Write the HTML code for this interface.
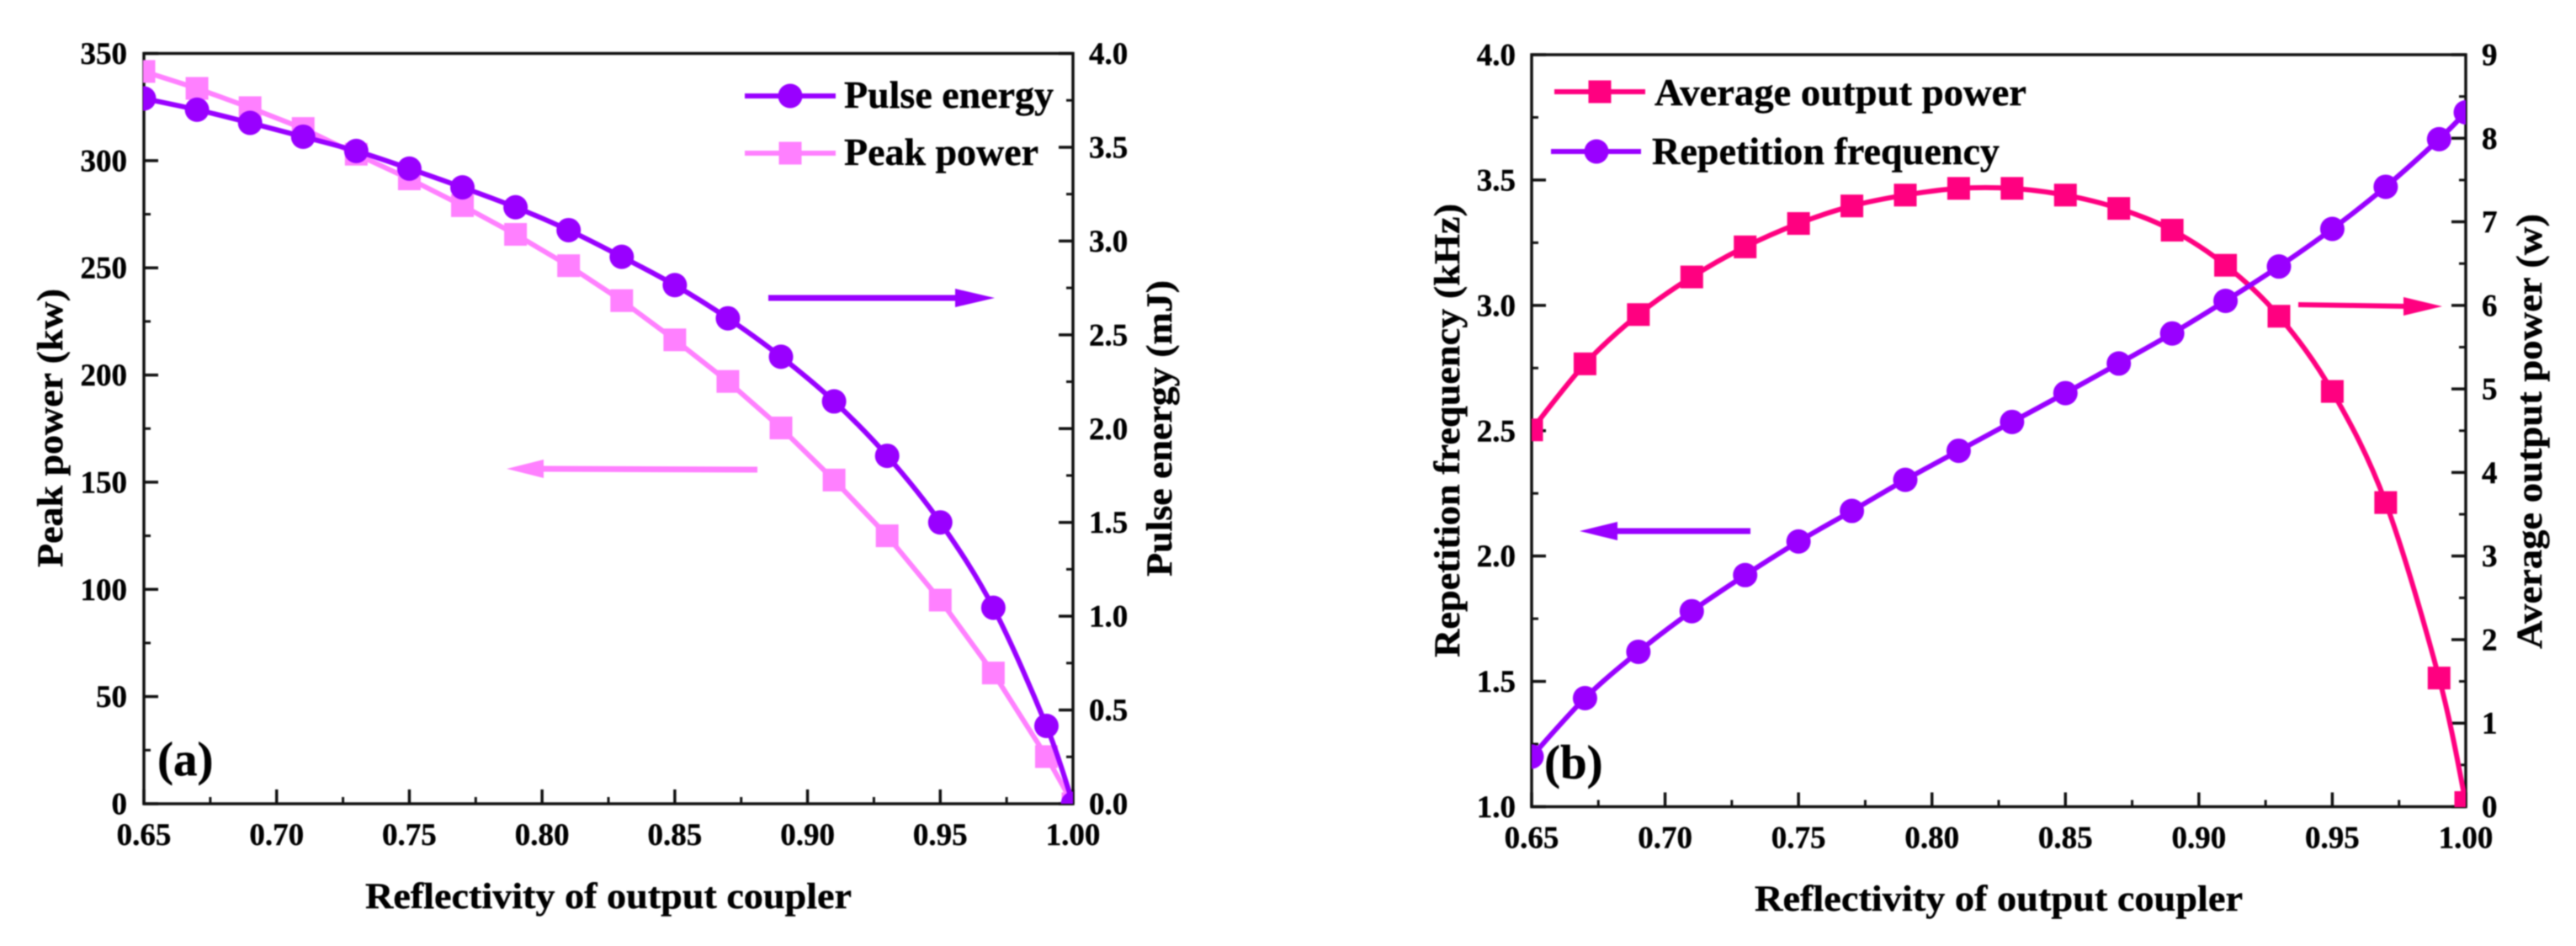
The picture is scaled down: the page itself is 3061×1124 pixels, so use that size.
<!DOCTYPE html>
<html lang="en">
<head>
<meta charset="utf-8">
<title>Peak power, pulse energy, average output power and repetition frequency</title>
<style>
html,body{margin:0;padding:0;background:#fff;}
body{width:3061px;height:1124px;overflow:hidden;}
svg{display:block;filter:blur(0.7px);}
text{font-family:"Liberation Serif",serif;font-weight:bold;fill:#000;stroke:#000;stroke-width:0.4px;}
</style>
</head>
<body>
<svg id="chart" xmlns="http://www.w3.org/2000/svg" width="3061" height="1124" viewBox="0 0 3061 1124">
  <rect x="0" y="0" width="3061" height="1124" fill="#fff"/>
  <defs>
    <clipPath id="clip-a"><rect x="170" y="63" width="1105" height="892"/></clipPath>
    <clipPath id="clip-b"><rect x="1820" y="64" width="1110" height="895"/></clipPath>
  </defs>

  <text x="434" y="1079" font-size="43" textLength="578" lengthAdjust="spacingAndGlyphs">Reflectivity of output coupler</text>
  <text transform="translate(74,674) rotate(-90)" font-size="43" textLength="331" lengthAdjust="spacingAndGlyphs">Peak power (kw)</text>
  <text transform="translate(1392,685) rotate(-90)" font-size="43" textLength="352" lengthAdjust="spacingAndGlyphs">Pulse energy (mJ)</text>
  <text x="187" y="921" font-size="57">(a)</text>

  <text x="2085" y="1082" font-size="43" textLength="580" lengthAdjust="spacingAndGlyphs">Reflectivity of output coupler</text>
  <text transform="translate(1734,781) rotate(-90)" font-size="43" textLength="539" lengthAdjust="spacingAndGlyphs">Repetition frequency (kHz)</text>
  <text transform="translate(3020,771) rotate(-90)" font-size="43" textLength="517" lengthAdjust="spacingAndGlyphs">Average output power (w)</text>
  <text x="1835" y="925" font-size="57">(b)</text>

  <g id="legend-a">
    <line x1="885" y1="114" x2="993" y2="114" stroke="#9900ff" stroke-width="6"/>
    <circle cx="939" cy="114" r="14.5" fill="#9900ff"/>
    <text x="1003" y="128" font-size="46" textLength="249" lengthAdjust="spacingAndGlyphs">Pulse energy</text>
    <line x1="885" y1="182" x2="993" y2="182" stroke="#ff80ff" stroke-width="6"/>
    <rect x="925.5" y="168.5" width="27" height="27" fill="#ff80ff"/>
    <text x="1003" y="196" font-size="46" textLength="231" lengthAdjust="spacingAndGlyphs">Peak power</text>
  </g>

  <g id="legend-b">
    <line x1="1847" y1="109" x2="1955" y2="109" stroke="#ff0080" stroke-width="6"/>
    <rect x="1887.5" y="95.5" width="27" height="27" fill="#ff0080"/>
    <text x="1966" y="125" font-size="46" textLength="442" lengthAdjust="spacingAndGlyphs">Average output power</text>
    <line x1="1843" y1="180" x2="1950" y2="180" stroke="#9900ff" stroke-width="6"/>
    <ellipse cx="1897" cy="180" rx="14.5" ry="14.5" fill="#9900ff"/>
    <text x="1963" y="195" font-size="46" textLength="413" lengthAdjust="spacingAndGlyphs">Repetition frequency</text>
  </g>

  <g>
    <line x1="913" y1="354" x2="1140" y2="354" stroke="#9900ff" stroke-width="7"/>
    <polygon points="1135,343 1182,354 1135,365" fill="#9900ff"/>
  </g>
  <g>
    <line x1="900" y1="558" x2="640" y2="557" stroke="#ff80ff" stroke-width="7"/>
    <polygon points="646,546 602,557 646,568" fill="#ff80ff"/>
  </g>
  <g>
    <line x1="2080" y1="631" x2="1915" y2="631" stroke="#9900ff" stroke-width="7"/>
    <polygon points="1922,620 1877,631 1922,642" fill="#9900ff"/>
  </g>
  <g>
    <line x1="2731" y1="362" x2="2862" y2="364" stroke="#ff0080" stroke-width="6"/>
    <polygon points="2856,353 2902,364 2856,375" fill="#ff0080"/>
  </g>
</svg>

<script>
var reflectivity = [0.65,0.67,0.69,0.71,0.73,0.75,0.77,0.79,0.81,0.83,0.85,0.87,0.89,0.91,0.93,0.95,0.97,0.99,1.00];
var peakPower = [341.6,333.7,324.7,315,303,291.5,279,265.6,251,234.7,216.4,197,175.3,151,125,95,61,22,0];
var pulseEnergy = [3.76,3.70,3.63,3.556,3.48,3.386,3.286,3.18,3.058,2.916,2.765,2.588,2.383,2.145,1.855,1.50,1.045,0.415,0];
var repetitionFrequency = [1.20,1.433,1.618,1.78,1.924,2.058,2.18,2.304,2.42,2.535,2.65,2.768,2.888,3.018,3.155,3.305,3.473,3.663,3.77];
var averagePower = [4.51,5.30,5.89,6.34,6.70,6.98,7.19,7.32,7.40,7.40,7.32,7.16,6.90,6.48,5.87,4.97,3.64,1.54,0.05];

var xTickLabels = ["0.65","0.70","0.75","0.80","0.85","0.90","0.95","1.00"];
var peakTickLabels = ["0","50","100","150","200","250","300","350"];
var energyTickLabels = ["0.0","0.5","1.0","1.5","2.0","2.5","3.0","3.5","4.0"];
var freqTickLabels = ["1.0","1.5","2.0","2.5","3.0","3.5","4.0"];
var powerTickLabels = ["0","1","2","3","4","5","6","7","8","9"];

var NS = 'http://www.w3.org/2000/svg';
var svg = document.getElementById('chart');
var firstOverlay = document.getElementById('legend-a');

function make(tag, attrs, parent) {
  var el = document.createElementNS(NS, tag);
  for (var k in attrs) { el.setAttribute(k, attrs[k]); }
  parent.appendChild(el);
  return el;
}

function linear(d0, d1, r0, r1) {
  return function (v) { return r0 + (v - d0) / (d1 - d0) * (r1 - r0); };
}

function smoothPath(px, py) {
  var d = 'M' + px[0] + ' ' + py[0];
  for (var i = 0; i < px.length - 1; i++) {
    var p0 = Math.max(i - 1, 0), p3 = Math.min(i + 2, px.length - 1);
    var c1x = px[i] + (px[i + 1] - px[p0]) / 6, c1y = py[i] + (py[i + 1] - py[p0]) / 6;
    var c2x = px[i + 1] - (px[p3] - px[i]) / 6, c2y = py[i + 1] - (py[p3] - py[i]) / 6;
    d += ' C' + c1x + ' ' + c1y + ' ' + c2x + ' ' + c2y + ' ' + px[i + 1] + ' ' + py[i + 1];
  }
  return d;
}

function straightPath(px, py) {
  var d = '';
  for (var i = 0; i < px.length; i++) { d += (i ? ' L' : 'M') + px[i] + ' ' + py[i]; }
  return d;
}

function tick(group, x1, y1, x2, y2, w) {
  var t = make('line', { x1: x1, y1: y1, x2: x2, y2: y2, stroke: '#111', 'stroke-width': w }, group);
  
  
}

function label(group, txt, x, y, anchor) {
  var t = make('text', { x: x, y: y, 'font-size': 37, 'text-anchor': anchor }, group);
  t.textContent = txt;
  
  
}

function axes(p) {
  var g = document.createElementNS(NS, 'g');
  
  
  svg.insertBefore(g, firstOverlay);
  var frame = make('rect', { x: p.x0, y: p.y1, width: p.x1 - p.x0, height: p.y0 - p.y1, fill: 'none', stroke: '#111', 'stroke-width': 3.5 }, g);
  
  

  var xScale = linear(0.65, 1.0, p.x0, p.x1);
  var i, v, py;
  for (i = 0; i < xTickLabels.length; i++) {
    v = parseFloat(xTickLabels[i]);
    tick(g, xScale(v), p.y0, xScale(v), p.y0 - 17, 3.5);
    label(g, xTickLabels[i], xScale(v), p.y0 + 49, 'middle');
    if (i < xTickLabels.length - 1) { tick(g, xScale(v + 0.025), p.y0, xScale(v + 0.025), p.y0 - 8, 3); }
  }
  var ly = linear(parseFloat(p.left[0]), parseFloat(p.left[p.left.length - 1]), p.y0, p.y1);
  for (i = 0; i < p.left.length; i++) {
    v = parseFloat(p.left[i]); py = ly(v);
    tick(g, p.x0, py, p.x0 + 17, py, 3.5);
    label(g, p.left[i], p.leftLabelX, py + 12.5, 'end');
    if (i < p.left.length - 1) {
      var mid = ly(v + (parseFloat(p.left[1]) - parseFloat(p.left[0])) / 2);
      tick(g, p.x0, mid, p.x0 + 8, mid, 3);
    }
  }
  var ry = linear(parseFloat(p.right[0]), parseFloat(p.right[p.right.length - 1]), p.y0, p.y1);
  for (i = 0; i < p.right.length; i++) {
    v = parseFloat(p.right[i]); py = ry(v);
    tick(g, p.x1, py, p.x1 - 17, py, 3.5);
    label(g, p.right[i], p.rightLabelX, py + 12.5, 'start');
    if (i < p.right.length - 1) {
      var midR = ry(v + (parseFloat(p.right[1]) - parseFloat(p.right[0])) / 2);
      tick(g, p.x1, midR, p.x1 - 8, midR, 3);
    }
  }
}

function series(s) {
  var g = document.createElementNS(NS, 'g');
  
  
  g.setAttribute('clip-path', 'url(#' + s.clip + ')');
  svg.insertBefore(g, firstOverlay);
  var px = reflectivity.map(s.xf), py = s.values.map(s.yf);
  var line = make('path', { d: s.smooth ? smoothPath(px, py) : straightPath(px, py), fill: 'none', stroke: s.color, 'stroke-width': 6, 'stroke-linejoin': 'round' }, g);
  
  
  for (var i = 0; i < px.length; i++) {
    var m;
    if (s.marker === 'circle') {
      m = make('circle', { cx: px[i], cy: py[i], r: 14.5, fill: s.color }, g);
    } else {
      m = make('rect', { x: px[i] - 13.5, y: py[i] - 13.5, width: 27, height: 27, fill: s.color }, g);
    }
    
    
  }
}

var A = { name: 'panel-a', x0: 171, x1: 1275, y0: 955, y1: 63.5, left: peakTickLabels, right: energyTickLabels, leftLabelX: 151, rightLabelX: 1294 };
var B = { name: 'panel-b', x0: 1820, x1: 2930, y0: 958.5, y1: 65, left: freqTickLabels, right: powerTickLabels, leftLabelX: 1801, rightLabelX: 2949 };

axes(A);
axes(B);

var xA = linear(0.65, 1.0, A.x0, A.x1);
var xB = linear(0.65, 1.0, B.x0, B.x1);

series({ name: 'peak-power', values: peakPower, color: '#ff80ff', marker: 'square', smooth: false, clip: 'clip-a', xf: xA, yf: linear(0, 350, A.y0, A.y1) });
series({ name: 'pulse-energy', values: pulseEnergy, color: '#9900ff', marker: 'circle', smooth: true, clip: 'clip-a', xf: xA, yf: linear(0, 4, A.y0, A.y1) });
series({ name: 'average-output-power', values: averagePower, color: '#ff0080', marker: 'square', smooth: true, clip: 'clip-b', xf: xB, yf: linear(0, 9, B.y0, B.y1) });
series({ name: 'repetition-frequency', values: repetitionFrequency, color: '#9900ff', marker: 'circle', smooth: true, clip: 'clip-b', xf: xB, yf: linear(1, 4, B.y0, B.y1) });
</script>
</body>
</html>
